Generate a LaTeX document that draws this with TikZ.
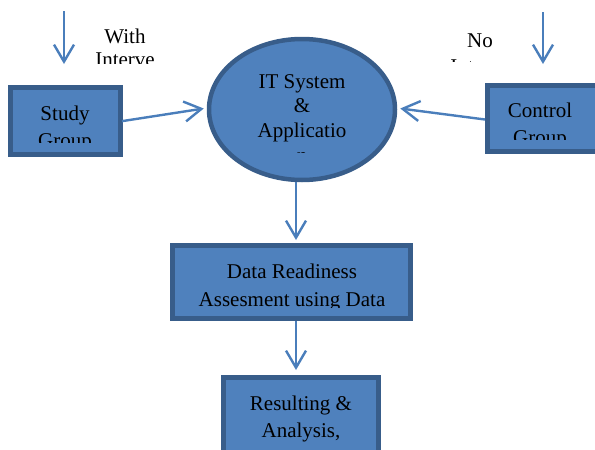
\documentclass[tikz,border=0pt]{standalone}
\usepackage{fontspec}
\setmainfont{Liberation Serif}
\usetikzlibrary{arrows.meta,shapes.geometric}
\definecolor{boxfill}{HTML}{4F81BD}
\definecolor{boxline}{HTML}{385D8A}
\definecolor{arrowc}{HTML}{4A7EBB}
\begin{document}
\begin{tikzpicture}[x=1pt,y=-1pt,
  box/.style={draw=boxline,line width=5pt,fill=boxfill,inner sep=0pt},
  conn/.style={draw=arrowc,line width=2.4pt,
    -{Straight Barb[length=17pt,width=20pt,line width=2.4pt]}},
  txt/.style={font=\fontsize{21}{23}\selectfont,anchor=base,inner sep=0pt,text=black}]
\useasboundingbox (0,0) rectangle (595,450);
% shapes
\node[box,minimum width=110pt,minimum height=67pt] (study) at (65.5,121) {};
\node[box,minimum width=113pt,minimum height=66pt] (control) at (544,118.5) {};
\node[box,draw=boxline,line width=4.5pt,ellipse,minimum width=186pt,minimum height=141pt] (it) at (302,109.5) {};
\node[box,minimum width=238pt,minimum height=73pt] (data) at (291.5,282) {};
\node[box,minimum width=155pt,minimum height=80pt] (res) at (301,417.5) {};
% texts
\node[txt] (t1) at (65,120) {Study};
\begin{scope}
  \clip (0,0) rectangle (595,142);
  \node[txt] (t2) at (65,147) {Group};
\end{scope}
\node[txt] (t3) at (540,117) {Control};
\begin{scope}
  \clip (0,0) rectangle (595,139);
  \node[txt] (t4) at (540,144) {Group};
\end{scope}
\node[txt] (t5) at (302,88) {IT System};
\node[txt] (t6) at (302,112) {\&};
\node[txt] (t7) at (302,137) {Applicatio};
\begin{scope}
  \clip (0,0) rectangle (595,152.5);
  \node[txt] (t8) at (302,162) {n};
\end{scope}
\node[txt] (t9) at (292,278) {Data Readiness};
\begin{scope}
  \clip (0,0) rectangle (595,307);
  \node[txt] (t10) at (292,306) {Assesment using Data};
\end{scope}
\node[txt] (t11) at (301,410) {Resulting \&};
\node[txt] (t12) at (301,437) {Analysis,};
\node[txt] (t13) at (125,43) {With};
\begin{scope}
  \clip (0,0) rectangle (595,63);
  \node[txt] (t14) at (125,66) {Interve};
\end{scope}
\node[txt] (t15) at (480,47) {No};
\begin{scope}
  \clip (0,0) rectangle (595,61);
  \node[txt] (t16) at (480,73) {Interve};
\end{scope}
% connectors
\coordinate (a1) at (64,11);
\coordinate (a2) at (64,64);
\coordinate (b1) at (543,12);
\coordinate (b2) at (543,64);
\coordinate (cx) at (296,0);
\draw[conn] (a1) -- (a2);
\draw[conn] (b1) -- (b2);
\draw[conn,shorten <=-1pt] (study.east) -- ([xshift=-3pt,yshift=1pt]it.west);
\draw[conn] ([yshift=-1pt]control.west) -- ([xshift=3pt,yshift=1pt]it.east);
\draw[conn,shorten >=3pt] (it.south -| cx) -- (data.north -| cx);
\draw[conn,shorten >=5pt] (data.south -| cx) -- (res.north -| cx);
\end{tikzpicture}
\end{document}
